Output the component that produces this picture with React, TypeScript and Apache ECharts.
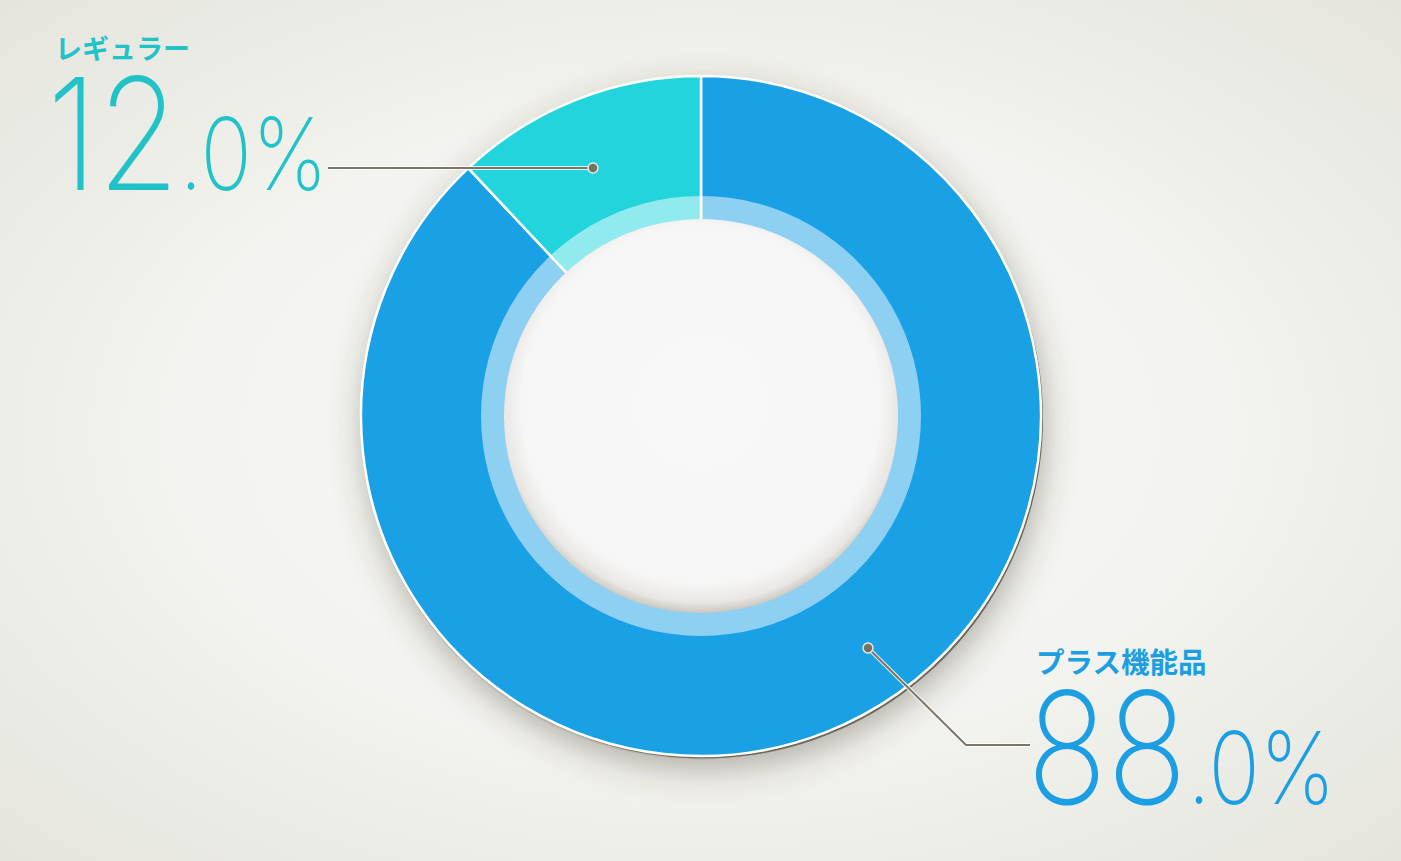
import React, { useEffect, useRef } from "react";
import * as echarts from "echarts";

// shares of the two product types (%)
const categories = ["プラス機能品", "レギュラー"];
const shares = [88.0, 12.0];
const sliceColors = ["#1aa0e4", "#22d4db"];
const labelColors = ["#1b9fe2", "#22c2c9"];

// annotation layout, same order as categories
const labelX = [1027, 47];
const nameX = [1036, 55];
const nameY = [646, 34];
const nameSize = [28.5, 27];
const numberY = [825, 211];
const dotPoints = [
  [868, 648],
  [593, 168],
];
const leaderLines = [
  [
    [868, 648],
    [966, 745],
    [1030, 745],
  ],
  [
    [593, 168],
    [328, 168],
  ],
];

const CX = 701;
const CY = 416;
const R_OUT = 340;
const R_BAND = 220;
const R_IN = 196;

const NUM_FONT = "Inter, Roboto, 'Liberation Sans', sans-serif";
const JP_FONT = "'Noto Sans CJK JP', 'Noto Sans', sans-serif";

const App: React.FC = () => {
  const chartRef = useRef<HTMLDivElement>(null);

  useEffect(() => {
    document.body.style.margin = "0";
    const chart = echarts.init(chartRef.current!, null, { renderer: "svg" });

    const labels: any[] = [];
    categories.forEach((name, i) => {
      const v = shares[i];
      const whole = String(Math.floor(v));
      const rest = v.toFixed(1).slice(whole.length) + "%";
      labels.push({
        type: "text",
        x: nameX[i],
        y: nameY[i],
        z: 10,
        style: {
          text: name,
          fill: labelColors[i],
          fontFamily: JP_FONT,
          fontWeight: "bold",
          fontSize: nameSize[i],
          align: "left",
          verticalAlign: "top",
        },
      });
      labels.push({
        type: "text",
        x: labelX[i],
        y: numberY[i],
        scaleX: 0.85,
        z: 10,
        style: {
          text: `{big|${whole}}{small|${rest}}`,
          align: "left",
          verticalAlign: "bottom",
          rich: {
            big: {
              fontFamily: NUM_FONT,
              fontWeight: 200,
              fontSize: 156,
              fill: labelColors[i],
              verticalAlign: "bottom",
            },
            small: {
              fontFamily: NUM_FONT,
              fontWeight: 200,
              fontSize: 100,
              fill: labelColors[i],
              verticalAlign: "bottom",
              padding: [0, 0, 8, 0],
            },
          },
        },
      });
    });

    const leaders: any[] = [];
    leaderLines.forEach((pts, i) => {
      leaders.push({
        type: "polyline",
        z: 8,
        shape: { points: pts },
        style: { stroke: "rgba(255,255,255,0.85)", lineWidth: 4, fill: null },
      });
      leaders.push({
        type: "polyline",
        z: 9,
        shape: { points: pts },
        style: { stroke: "#7b7667", lineWidth: 2, fill: null },
      });
      leaders.push({
        type: "circle",
        z: 9,
        shape: { cx: dotPoints[i][0], cy: dotPoints[i][1], r: 5 },
        style: { fill: "#77725f", stroke: "#e9e7e0", lineWidth: 1.5 },
      });
    });

    const option: any = {
      animation: false,
      graphic: [
        {
          type: "rect",
          z: -10,
          shape: { x: 0, y: 0, width: 1401, height: 861 },
          style: {
            fill: new echarts.graphic.RadialGradient(0.5, 0.5, 0.75, [
              { offset: 0, color: "#f7f7f4" },
              { offset: 0.5, color: "#f3f3ef" },
              { offset: 1, color: "#e3e3db" },
            ]),
          },
        },
        {
          type: "circle",
          z: 0,
          shape: { cx: CX, cy: CY + 4, r: R_OUT },
          style: {
            fill: "#bdb8ae",
            shadowBlur: 34,
            shadowOffsetX: 3,
            shadowOffsetY: 8,
            shadowColor: "rgba(70,60,45,0.4)",
          },
        },
        {
          type: "circle",
          z: 1,
          shape: { cx: CX + 2, cy: CY + 2.5, r: R_OUT },
          style: { fill: "#6d675c" },
        },
        {
          type: "ring",
          z: 5,
          shape: { cx: CX, cy: CY, r: R_BAND, r0: R_IN },
          style: { fill: "rgba(255,255,255,0.5)" },
        },
        {
          type: "circle",
          z: 6,
          shape: { cx: CX, cy: CY, r: R_IN + 1 },
          style: {
            fill: new echarts.graphic.RadialGradient(0.5, 0.47, 0.53, [
              { offset: 0, color: "#f8f8f8" },
              { offset: 0.86, color: "#f6f6f6" },
              { offset: 0.95, color: "#e9e7e4" },
              { offset: 1, color: "#cbc6bf" },
            ]),
          },
        },
        ...leaders,
        ...labels,
      ],
      series: [
        {
          type: "pie",
          z: 2,
          center: [CX, CY],
          radius: [R_IN - 2, R_OUT],
          startAngle: 90,
          clockwise: true,
          silent: true,
          label: { show: false },
          labelLine: { show: false },
          emphasis: { disabled: true },
          itemStyle: { borderColor: "#ffffff", borderWidth: 2.5 },
          data: categories.map((name, i) => ({
            name,
            value: shares[i],
            itemStyle: { color: sliceColors[i] },
          })),
        },
      ],
    };

    chart.setOption(option);

    return () => {
      chart.dispose();
    };
  }, []);

  return <div style={{ width: "1401px", height: "861px" }} ref={chartRef}></div>;
};

export default App;
